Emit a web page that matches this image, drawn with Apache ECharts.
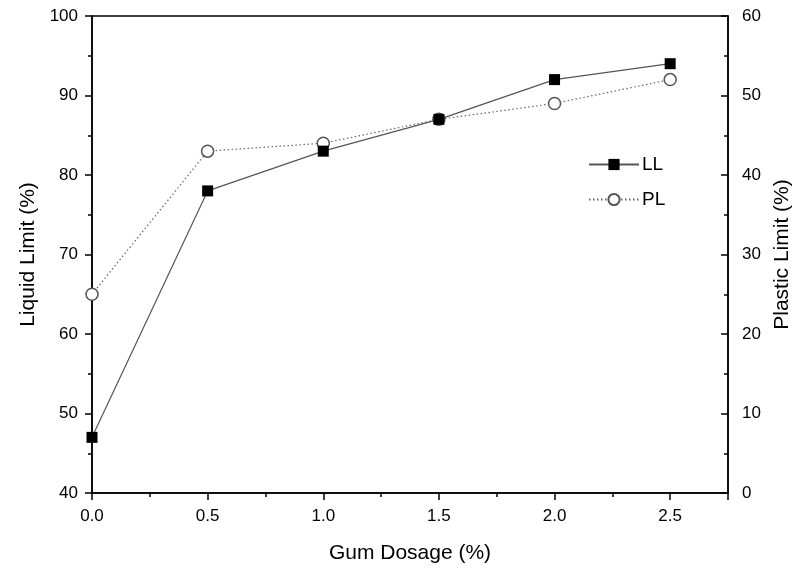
<!DOCTYPE html>
<html>
<head>
<meta charset="utf-8">
<script src="https://cdn.jsdelivr.net/npm/echarts@6/dist/echarts.min.js"></script>
<style>
  html, body { margin: 0; padding: 0; background: #fff; }
  #chart { width: 794px; height: 571px; }
</style>
</head>
<body>
<div id="chart"></div>
<script>
var dosage = [0, 0.5, 1.0, 1.5, 2.0, 2.5];
var llValues = [47, 78, 83, 87, 92, 94];
var plValues = [25, 43, 44, 47, 49, 52];

function pairs(xs, ys) {
  var out = [];
  for (var i = 0; i < xs.length; i++) {
    out.push([xs[i], ys[i]]);
  }
  return out;
}

var font = 'Liberation Sans, Arial, sans-serif';
var chart = echarts.init(document.getElementById('chart'));
chart.setOption({
  animation: false,
  grid: {
    left: 92, right: 66, top: 16, bottom: 78,
    outerBoundsMode: 'none', containLabel: false,
    show: true, borderColor: '#000', borderWidth: 1.5
  },
  legend: {
    orient: 'vertical',
    left: 588,
    top: 155,
    padding: 0,
    itemGap: 16,
    itemWidth: 50,
    itemHeight: 14,
    textStyle: { fontFamily: font, fontSize: 19, color: '#000', padding: [0, 0, 0, -2] },
    data: ['LL', 'PL']
  },
  xAxis: {
    type: 'value',
    min: 0,
    max: 2.75,
    interval: 0.5,
    name: 'Gum Dosage (%)',
    nameLocation: 'middle',
    nameGap: 50,
    nameTextStyle: { fontFamily: font, fontSize: 21, color: '#000' },
    axisLine: { lineStyle: { color: '#000', width: 1.5 } },
    axisTick: { length: 7, lineStyle: { color: '#000', width: 1.5 } },
    minorTick: { show: true, splitNumber: 2, length: 4, lineStyle: { color: '#000', width: 1.5 } },
    splitLine: { show: false },
    axisLabel: {
      fontFamily: font, fontSize: 17, color: '#000', margin: 15,
      formatter: function (v) {
        return Math.abs(v * 2 - Math.round(v * 2)) < 1e-6 ? v.toFixed(1) : '';
      }
    }
  },
  yAxis: [
    {
      type: 'value',
      min: 40,
      max: 100,
      interval: 10,
      name: 'Liquid Limit (%)',
      nameLocation: 'middle',
      nameGap: 53,
      nameTextStyle: { fontFamily: font, fontSize: 21, color: '#000' },
      axisLine: { show: true, lineStyle: { color: '#000', width: 1.5 } },
      axisTick: { length: 7, lineStyle: { color: '#000', width: 1.5 } },
      minorTick: { show: true, splitNumber: 2, length: 4, lineStyle: { color: '#000', width: 1.5 } },
      splitLine: { show: false },
      axisLabel: { fontFamily: font, fontSize: 17, color: '#000', margin: 14 }
    },
    {
      type: 'value',
      position: 'right',
      min: 0,
      max: 60,
      interval: 10,
      name: 'Plastic Limit (%)',
      nameLocation: 'middle',
      nameGap: 38,
      nameRotate: 90,
      nameTextStyle: { fontFamily: font, fontSize: 21, color: '#000' },
      axisLine: { show: true, lineStyle: { color: '#000', width: 1.5 } },
      axisTick: { inside: true, length: 7, lineStyle: { color: '#000', width: 1.5 } },
      minorTick: { show: true, splitNumber: 2, length: 4, lineStyle: { color: '#000', width: 1.5 } },
      splitLine: { show: false },
      axisLabel: { fontFamily: font, fontSize: 17, color: '#000', margin: 14 }
    }
  ],
  series: [
    {
      name: 'LL',
      type: 'line',
      yAxisIndex: 0,
      data: pairs(dosage, llValues),
      symbol: 'rect',
      symbolSize: 11,
      itemStyle: { color: '#000', borderColor: '#000', borderWidth: 0 },
      lineStyle: { color: '#555', width: 1.2, type: 'solid' },
      z: 3
    },
    {
      name: 'PL',
      type: 'line',
      yAxisIndex: 1,
      data: pairs(dosage, plValues),
      symbol: 'circle',
      symbolSize: 12,
      itemStyle: { color: '#fff', borderColor: '#555', borderWidth: 1.5 },
      lineStyle: { color: '#666', width: 1.2, type: [1.5, 2.5] },
      z: 2
    }
  ]
});
</script>
</body>
</html>
